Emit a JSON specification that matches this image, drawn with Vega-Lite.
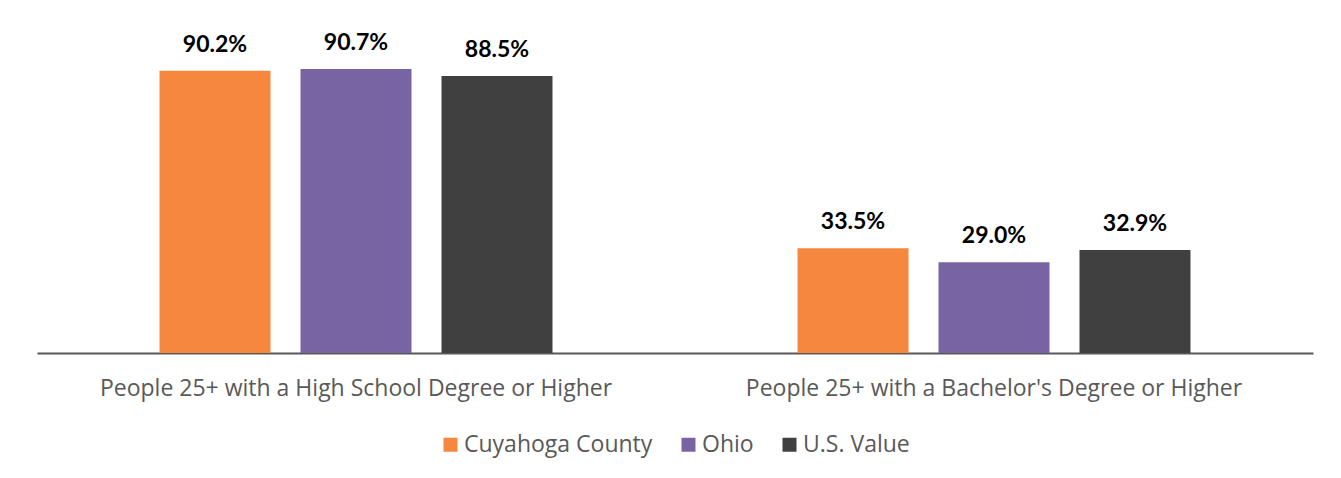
{
  "$schema": "https://vega.github.io/schema/vega-lite/v6.json",
  "autosize": {"type": "none"},
  "padding": {"left": 37, "top": 40, "right": 28, "bottom": 125},
  "width": 1276,
  "height": 313,
  "background": "white",
  "config": {"view": {"stroke": null}},
  "data": {
    "values": [
      {"measure": "People 25+ with a High School Degree or Higher", "series": "Cuyahoga County", "value": 0.902},
      {"measure": "People 25+ with a High School Degree or Higher", "series": "Ohio", "value": 0.907},
      {"measure": "People 25+ with a High School Degree or Higher", "series": "U.S. Value", "value": 0.885},
      {"measure": "People 25+ with a Bachelor's Degree or Higher", "series": "Cuyahoga County", "value": 0.335},
      {"measure": "People 25+ with a Bachelor's Degree or Higher", "series": "Ohio", "value": 0.290},
      {"measure": "People 25+ with a Bachelor's Degree or Higher", "series": "U.S. Value", "value": 0.329}
    ]
  },
  "encoding": {
    "x": {
      "field": "measure", "type": "nominal", "sort": null,
      "scale": {"paddingInner": 0, "paddingOuter": 0},
      "axis": {
        "title": null, "labelAngle": 0, "ticks": false, "tickSize": 0,
        "labelPadding": 24, "labelFont": "Open Sans", "labelFontSize": 23,
        "labelColor": "#595959", "domainColor": "#595959", "domainWidth": 2,
        "labelLimit": 0
      }
    },
    "xOffset": {
      "field": "series", "type": "nominal", "sort": ["Cuyahoga County", "Ohio", "U.S. Value"],
      "scale": {"paddingInner": 0.2128, "paddingOuter": 0.869}
    },
    "y": {
      "field": "value", "type": "quantitative",
      "scale": {"domain": [0, 1], "nice": false},
      "axis": null
    }
  },
  "layer": [
    {
      "mark": {"type": "bar"},
      "encoding": {
        "color": {
          "field": "series", "type": "nominal",
          "scale": {"domain": ["Cuyahoga County", "Ohio", "U.S. Value"], "range": ["#F5873F", "#7864A3", "#404040"]},
          "legend": {
            "title": null, "orient": "none", "direction": "horizontal",
            "legendX": 402, "legendY": 393,
            "symbolType": "square", "symbolSize": 196, "symbolStrokeWidth": 0,
            "labelFont": "Open Sans", "labelFontSize": 23, "labelColor": "#595959",
            "labelOffset": 2, "columnPadding": 24, "padding": 0, "labelLimit": 0
          }
        }
      }
    },
    {
      "mark": {"type": "text", "font": "Lato", "fontWeight": "bold", "fontSize": 23, "color": "#000000", "baseline": "alphabetic", "dy": -19},
      "encoding": {
        "text": {"field": "value", "type": "quantitative", "format": ".1%"}
      }
    }
  ]
}
